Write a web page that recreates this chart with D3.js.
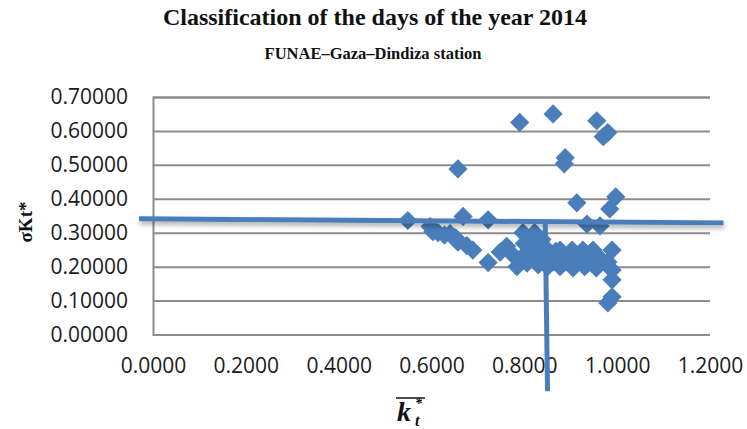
<!DOCTYPE html>
<html>
<head>
<meta charset="utf-8">
<script src="https://cdn.jsdelivr.net/npm/d3@7"></script>
<style>
  body { margin: 0; background: #fff; }
  svg { display: block; }
</style>
</head>
<body>
<svg width="747" height="429"></svg>
<script>
// daily mean clearness index (kt*) and its standard deviation (sigma kt*)
var ktValues = [
  0.549, 0.597, 0.603, 0.614, 0.628, 0.640, 0.652, 0.657, 0.668, 0.657,
  0.676, 0.689, 0.722, 0.722, 0.748, 0.762, 0.775, 0.784, 0.790, 0.795,
  0.797, 0.800, 0.806, 0.810, 0.815, 0.818, 0.822, 0.826, 0.830, 0.834,
  0.838, 0.842, 0.846, 0.850, 0.853, 0.862, 0.862, 0.868, 0.877, 0.877,
  0.886, 0.888, 0.888, 0.895, 0.903, 0.905, 0.913, 0.913, 0.920, 0.926,
  0.930, 0.935, 0.941, 0.948, 0.955, 0.956, 0.963, 0.963, 0.970, 0.980,
  0.980, 0.984, 0.989, 0.989, 0.989, 0.989, 0.980, 0.997
];
var sigmaValues = [
  0.336, 0.318, 0.303, 0.300, 0.293, 0.297, 0.285, 0.272, 0.348, 0.488,
  0.262, 0.249, 0.338, 0.212, 0.243, 0.260, 0.235, 0.200, 0.625, 0.228,
  0.300, 0.268, 0.210, 0.245, 0.285, 0.225, 0.300, 0.260, 0.205, 0.240,
  0.280, 0.220, 0.255, 0.200, 0.235, 0.650, 0.214, 0.245, 0.249, 0.200,
  0.503, 0.521, 0.214, 0.230, 0.249, 0.196, 0.388, 0.214, 0.235, 0.249,
  0.200, 0.325, 0.214, 0.249, 0.196, 0.630, 0.320, 0.225, 0.583, 0.595,
  0.214, 0.370, 0.249, 0.161, 0.190, 0.111, 0.093, 0.406
];
var xTicks = [0, 0.2, 0.4, 0.6, 0.8, 1.0, 1.2];
var yTicks = [0, 0.1, 0.2, 0.3, 0.4, 0.5, 0.6, 0.7];

// hand drawn threshold lines
var hLine = [[-0.03, 0.341], [1.229, 0.329]];
var vLine = [[0.845, 0.334], [0.850, -0.167]];

var svg = d3.select('svg');

var x = d3.scaleLinear().domain([0, 1.2]).range([153, 710]);
var y = d3.scaleLinear().domain([0, 0.7]).range([334.5, 97]);

var defs = svg.append('defs');
var f = defs.append('filter').attr('id', 'shadow')
    .attr('x', '-5%').attr('y', '-300%').attr('width', '110%').attr('height', '700%');
f.append('feDropShadow')
    .attr('dx', 1).attr('dy', 3).attr('stdDeviation', 2.5)
    .attr('flood-color', '#000').attr('flood-opacity', 0.35);

// titles
svg.append('text')
    .attr('x', 375).attr('y', 25)
    .attr('text-anchor', 'middle')
    .style('font-family', '"Liberation Serif", serif')
    .style('font-weight', 'bold')
    .style('font-size', '24px')
    .attr('fill', '#111')
    .text('Classification of the days of the year 2014');

svg.append('text')
    .attr('x', 373).attr('y', 59)
    .attr('text-anchor', 'middle')
    .style('font-family', '"Liberation Serif", serif')
    .style('font-weight', 'bold')
    .style('font-size', '16.5px')
    .attr('fill', '#111')
    .text('FUNAE\u2013Gaza\u2013Dindiza station');

// y axis with gridlines
var yAxis = svg.append('g')
    .attr('transform', 'translate(153,0)')
    .call(d3.axisLeft(y).tickValues(yTicks).tickSize(-(710 - 153))
      .tickPadding(25).tickFormat(d3.format('.5f')));
yAxis.select('.domain').attr('stroke', '#8c8c8c').attr('stroke-width', 2);
yAxis.selectAll('.tick line').attr('stroke', '#8c8c8c').attr('stroke-width', 2);
yAxis.selectAll('.tick text')
    .style('font-family', '"Open Sans", sans-serif')
    .style('font-size', '21px')
    .attr('fill', '#1a1a1a');

// x axis labels
var xAxis = svg.append('g')
    .attr('transform', 'translate(0,334.5)')
    .call(d3.axisBottom(x).tickValues(xTicks).tickSize(0)
      .tickPadding(24).tickFormat(d3.format('.4f')));
xAxis.select('.domain').remove();
xAxis.selectAll('.tick text')
    .style('font-family', '"Open Sans", sans-serif')
    .style('font-size', '21px')
    .attr('fill', '#1a1a1a');

// points
svg.append('g').selectAll('path')
    .data(ktValues)
    .enter()
    .append('path')
    .attr('d', d3.symbol().type(d3.symbolSquare).size(185))
    .attr('transform', function(d, i) {
      return 'translate(' + x(d) + ',' + y(sigmaValues[i]) + ') rotate(45)';
    })
    .attr('fill', '#4a7ebb');

// threshold lines
var line = d3.line()
    .x(function(d) { return x(d[0]); })
    .y(function(d) { return y(d[1]); });

svg.append('path')
    .datum(hLine)
    .attr('d', line)
    .attr('stroke', '#4a7ebb')
    .attr('stroke-width', 5)
    .attr('fill', 'none')
    .attr('filter', 'url(#shadow)');

svg.append('path')
    .datum(vLine)
    .attr('d', line)
    .attr('stroke', '#4a7ebb')
    .attr('stroke-width', 5)
    .attr('fill', 'none');

// y axis title
svg.append('text')
    .attr('transform', 'translate(32,222) rotate(-90)')
    .attr('text-anchor', 'middle')
    .style('font-family', '"Liberation Serif", serif')
    .style('font-weight', 'bold')
    .style('font-size', '19px')
    .attr('fill', '#111')
    .text('\u03c3Kt*');

// x axis title: overlined k with * and subscript t
var xt = svg.append('g').attr('fill', '#111')
    .style('font-family', '"Liberation Serif", serif')
    .style('font-weight', 'bold')
    .style('font-style', 'italic');
xt.append('text').attr('x', 397).attr('y', 421)
    .style('font-size', '28px').text('k');
xt.append('text').attr('x', 415).attr('y', 408)
    .style('font-size', '14px').text('*');
xt.append('text').attr('x', 415).attr('y', 426)
    .style('font-size', '16px').text('t');
xt.append('line')
    .attr('x1', 396).attr('x2', 425)
    .attr('y1', 398).attr('y2', 398)
    .attr('stroke', '#111').attr('stroke-width', 1.5);
</script>
</body>
</html>
